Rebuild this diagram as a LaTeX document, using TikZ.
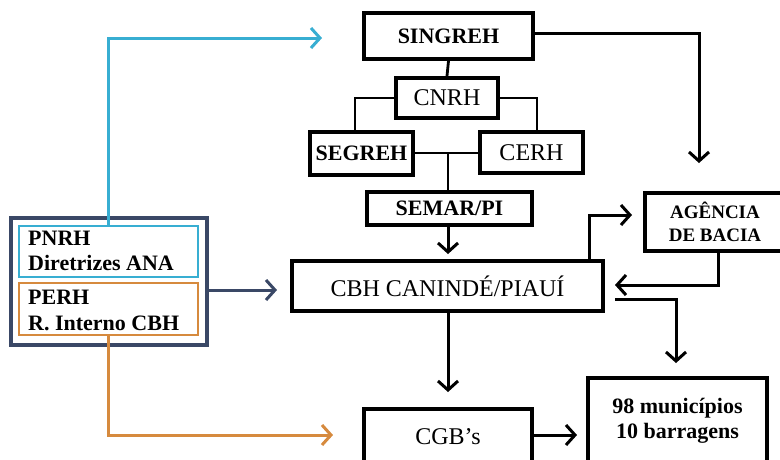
\documentclass[tikz,border=0pt]{standalone}
\usepackage{fontspec}
\setmainfont{Liberation Serif}
\usetikzlibrary{arrows.meta}
\definecolor{cyanl}{HTML}{38AED2}
\definecolor{orangel}{HTML}{D68A3E}
\definecolor{darkl}{HTML}{3A4866}
\tikzset{
  bx/.style={draw=black, line width=4pt, fill=white, inner sep=0pt, align=center},
  bf/.style={font=\fontsize{22}{25}\selectfont\bfseries},
  rf/.style={font=\fontsize{24}{27}\selectfont},
  tree/.style={draw=black, line width=1.5pt},
  arr/.style={draw=black, line width=3pt, -{Straight Barb[length=9pt,width=20pt,line width=3pt]}},
  lefttxt/.style={font=\fontsize{22}{25}\selectfont\bfseries, anchor=west, inner sep=0pt},
}
\begin{document}
\begin{tikzpicture}[x=1pt,y=-1pt]
\useasboundingbox (0,0) rectangle (780,459);
% main boxes
\node[bx,bf,minimum width=169pt,minimum height=46pt] (sing) at (448.5,36) {SINGREH};
\node[bx,rf,minimum width=102pt,minimum height=40pt] (cnrh) at (447,98) {CNRH};
\node[bx,bf,minimum width=103pt,minimum height=43pt] (segr) at (361.5,153.5) {SEGREH};
\node[bx,rf,minimum width=103pt,minimum height=41pt] (cerh) at (531.5,152.5) {CERH};
\node[bx,bf,minimum width=165pt,minimum height=33pt] (semar) at (449.5,208.5) {SEMAR/PI};
\node[bx,rf,minimum width=311pt,minimum height=50pt] (cbh) at (447.5,286) {CBH CANINDÉ/PIAUÍ};
\node[bx,font=\fontsize{19}{23}\selectfont\bfseries,minimum width=140pt,minimum height=58pt] (ag) at (715,222) {AGÊNCIA\\DE BACIA};
\node[bx,rf,minimum width=168pt,minimum height=55pt] (cgb) at (448,436.5) {CGB’s};
\node[bx,bf,minimum width=179pt,minimum height=86pt] (mun) at (677.5,421) {98 municípios\\10 barragens};
% left group
\node[draw=darkl, line width=4pt, minimum width=196pt, minimum height=127pt, inner sep=0pt] (outer) at (109,281.5) {};
\node[draw=cyanl, line width=2.8pt, minimum width=179pt, minimum height=51pt, inner sep=0pt] (cyb) at (108.5,251.5) {};
\node[draw=orangel, line width=2.8pt, minimum width=179pt, minimum height=52pt, inner sep=0pt] (orb) at (108.5,309) {};
\node[lefttxt] (t1) at (28,238) {PNRH};
\node[lefttxt] (t2) at (28,263) {Diretrizes ANA};
\node[lefttxt] (t3) at (28,297) {PERH};
\node[lefttxt] (t4) at (28,323) {R. Interno CBH};
% tree connectors
\draw[draw=black,line width=2.8pt] (sing.south) -- (cnrh.north);
\draw[tree] (cnrh.west) -| (segr.north -| 355,0);
\draw[tree] (cnrh.east) -| (cerh.north -| 537,0);
\draw[tree] (segr.east |- 0,153) -- (cerh.west |- 0,153);
\coordinate (mid) at (448,153);
\draw[tree] (mid) -- (semar.north -| mid);
% arrows
\draw[arr, shorten >=5pt] (semar.south -| 448,0) -- (cbh.north -| 448,0);
\coordinate (t_ag) at (699,163);
\draw[arr] (sing.east |- 0,33) -| (t_ag);
\coordinate (t_ag2) at (632,215);
\draw[arr] (cbh.north -| 589,0) |- (t_ag2);
\coordinate (t_cbh) at (615,285);
\draw[arr] (ag.south -| 718,0) |- (t_cbh);
\coordinate (s_mun) at (615,299);
\coordinate (t_mun) at (676,363);
\draw[arr] (s_mun) -| (t_mun);
\coordinate (t_cgb) at (448,392);
\draw[arr] (cbh.south -| 448,0) -- (t_cgb);
\coordinate (t_mun2) at (577,435);
\draw[arr] (cgb.east |- 0,435) -- (t_mun2);
% coloured arrows
\coordinate (t_sing) at (322,38);
\draw[arr, draw=cyanl] (cyb.north -| 108,0) |- (t_sing);
\coordinate (t_cgb2) at (333,435);
\draw[arr, draw=orangel] (orb.south -| 108,0) |- (t_cgb2);
\coordinate (t_cbh2) at (277,290);
\draw[arr, draw=darkl] (outer.east |- 0,290) -- (t_cbh2);
\end{tikzpicture}
\end{document}
